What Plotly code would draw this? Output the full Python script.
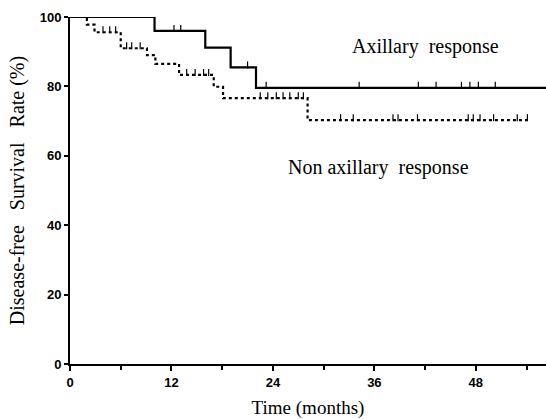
import plotly.graph_objects as go

# Axillary response (solid)
ax_time = [0, 10, 16, 19, 22, 56.3]
ax_surv = [100, 96.0, 91.2, 85.5, 79.6, 79.6]
ax_cens = [3.0, 4.0, 12.3, 13.1, 21.0, 23.2, 34.2, 41.2, 43.3, 46.3, 47.3, 48.3, 50.3]

# Non axillary response (dotted)
nax_time = [0, 2.0, 2.9, 6.0, 9.1, 10.1, 12.9, 17.0, 18.1, 28.1, 54.4]
nax_surv = [100, 97.8, 95.6, 91.0, 89.0, 86.5, 83.3, 79.9, 76.6, 70.3, 70.3]
nax_cens = [3.9, 4.7, 5.4, 6.7, 7.3, 8.3, 13.8, 14.8, 15.8, 16.4,
            22.5, 23.4, 24.4, 25.2, 26.0, 27.0, 27.6,
            32.0, 33.5, 38.2, 38.8, 41.1, 47.1, 47.7, 48.5, 50.1, 52.9, 54.1]

x_ticks = [0, 12, 24, 36, 48]
x_minor = [6, 18, 30, 42, 54]
y_ticks = [0, 20, 40, 60, 80, 100]


def level_at(times, surv, t):
    v = surv[0]
    for ti, si in zip(times, surv):
        if ti <= t:
            v = si
    return v


fig = go.Figure()
fig.add_trace(go.Scatter(x=ax_time, y=ax_surv, mode="lines", line=dict(shape="hv", color="black", width=2.2),
                         cliponaxis=False, showlegend=False))
fig.add_trace(go.Scatter(x=nax_time, y=nax_surv, mode="lines",
                         line=dict(shape="hv", color="black", width=2.2, dash="3px,3px"),
                         cliponaxis=False, showlegend=False))
fig.add_trace(go.Scatter(x=ax_cens, y=[level_at(ax_time, ax_surv, t) + 0.7 for t in ax_cens], mode="markers",
                         marker=dict(symbol="line-ns", size=5, line=dict(color="black", width=1.2)),
                         cliponaxis=False, showlegend=False))
fig.add_trace(go.Scatter(x=nax_cens, y=[level_at(nax_time, nax_surv, t) + 0.7 for t in nax_cens], mode="markers",
                         marker=dict(symbol="line-ns", size=5, line=dict(color="black", width=1.2)),
                         cliponaxis=False, showlegend=False))

fig.add_annotation(x=42.0, y=91.5, text="Axillary  response", showarrow=False,
                   font=dict(family="Liberation Serif", size=20, color="black"))
fig.add_annotation(x=36.5, y=56.5, text="Non axillary  response", showarrow=False,
                   font=dict(family="Liberation Serif", size=20, color="black"))

fig.update_layout(
    width=546, height=419,
    margin=dict(l=70, r=0, t=17, b=55),
    plot_bgcolor="white", paper_bgcolor="white",
    xaxis=dict(range=[0, 56.3], tickvals=x_ticks, ticktext=[str(v) for v in x_ticks],
               showgrid=False, zeroline=False, showline=True, linecolor="black", linewidth=2,
               ticks="outside", ticklen=5, tickwidth=2, tickcolor="black",
               tickfont=dict(family="Liberation Sans", size=13, color="black", weight="bold"),
               minor=dict(tickvals=x_minor, ticks="outside", ticklen=4, tickwidth=2, tickcolor="black"),
               title=dict(text="Time (months)", font=dict(family="Liberation Serif", size=19, color="black"),
                          standoff=12)),
    yaxis=dict(range=[0, 100], tickvals=y_ticks, showgrid=False, zeroline=False, showline=True,
               linecolor="black", linewidth=2, ticks="outside", ticklen=4, tickwidth=2, tickcolor="black",
               tickfont=dict(family="Liberation Sans", size=13, color="black", weight="bold"),
               title=dict(text="Disease-free   Survival   Rate (%)",
                          font=dict(family="Liberation Serif", size=20, color="black"), standoff=10)),
)

fig.write_html("out.html")
